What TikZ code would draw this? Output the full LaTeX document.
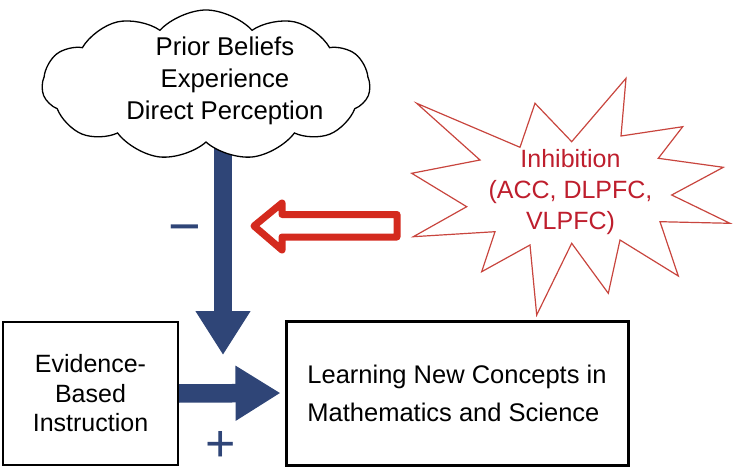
\documentclass[tikz,border=0pt]{standalone}
\usepackage{fontspec}
\setmainfont{Liberation Sans}
\usetikzlibrary{arrows.meta}
\usetikzlibrary{shapes.symbols}
\usetikzlibrary{backgrounds}
\definecolor{navy}{HTML}{2F4577}
\definecolor{alarm}{HTML}{D42A1E}
\definecolor{burst}{HTML}{C8453E}
\definecolor{bursttext}{HTML}{BE1E2D}

\begin{document}
\begin{tikzpicture}[x=1pt,y=-1pt,
  push/.style={navy, line width=18.5pt, -{Triangle[width=52pt,length=45pt]}},
  sign/.style={text=navy, anchor=base, inner sep=0pt}]
\useasboundingbox (0,0) rectangle (734,476);
% cloud of prior ideas
\node[cloud, draw, fill=white, line width=1.3pt, cloud puffs=11, cloud puff arc=95, cloud ignores aspect,
  minimum width=328pt, minimum height=150pt, inner sep=0pt] (prior) at (206,85) {};
\node[align=center, font=\fontsize{25.7}{32}\selectfont] (priortext) at (225,81) {Prior Beliefs\\Experience\\Direct Perception};
% boxes
\node[draw, line width=1.4pt, minimum width=175pt, minimum height=143pt, align=center,
  font=\fontsize{25}{29.5}\selectfont] (evid) at (90.5,393.5) {Evidence-\\Based\\Instruction};
\node[draw, line width=3pt, minimum width=342pt, minimum height=144pt, align=left,
  font=\fontsize{25.5}{38}\selectfont] (learn) at (457,393) {Learning New Concepts in\\Mathematics and Science};
% starburst
\draw[burst, line width=1.2pt] (416.7,103.3) -- (520,147.3) -- (535,103.3) -- (571.7,141.7)
  -- (626,78.3) -- (621,136) -- (682.7,126.7) -- (658.3,158.3) -- (723.3,167.3)
  -- (671.7,195) -- (730,223.3) -- (660,221.7) -- (678.3,276) -- (620,240)
  -- (608.3,293.3) -- (571.7,243.3) -- (536.7,315) -- (530,245) -- (481.7,271.7)
  -- (495,231.7) -- (413.3,236.7) -- (466.7,206.7) -- (411.7,173.3) -- (480,160) -- cycle;
\node[text=bursttext, align=center, font=\fontsize{25}{31}\selectfont] (inhib) at (570.5,192) {Inhibition\\(ACC, DLPFC,\\VLPFC)};
% hollow red arrow
\coordinate (rtip) at (254,226);
\draw[alarm, line width=7pt, line join=round] (rtip) -- ++(28,-23) -- ++(0,11.5) -- (397,214.5)
  -- (397,237) -- (282,237) -- (282,250) -- cycle;
% blue arrows
\coordinate (drop) at (223,355);
\begin{pgfonlayer}{background}
\draw[push, line width=18pt, -{Triangle[width=52pt,length=44pt]}] (drop |- prior.center) -- (drop);
\draw[push, shorten >=4pt] (evid.east) -- (learn.west);
\end{pgfonlayer}
\node[sign, font=\fontsize{56}{56}\selectfont] (minus) at (184.5,245) {−};
\node[sign, font=\fontsize{52}{52}\selectfont] (plus) at (221,461) {+};
\end{tikzpicture}
\end{document}
